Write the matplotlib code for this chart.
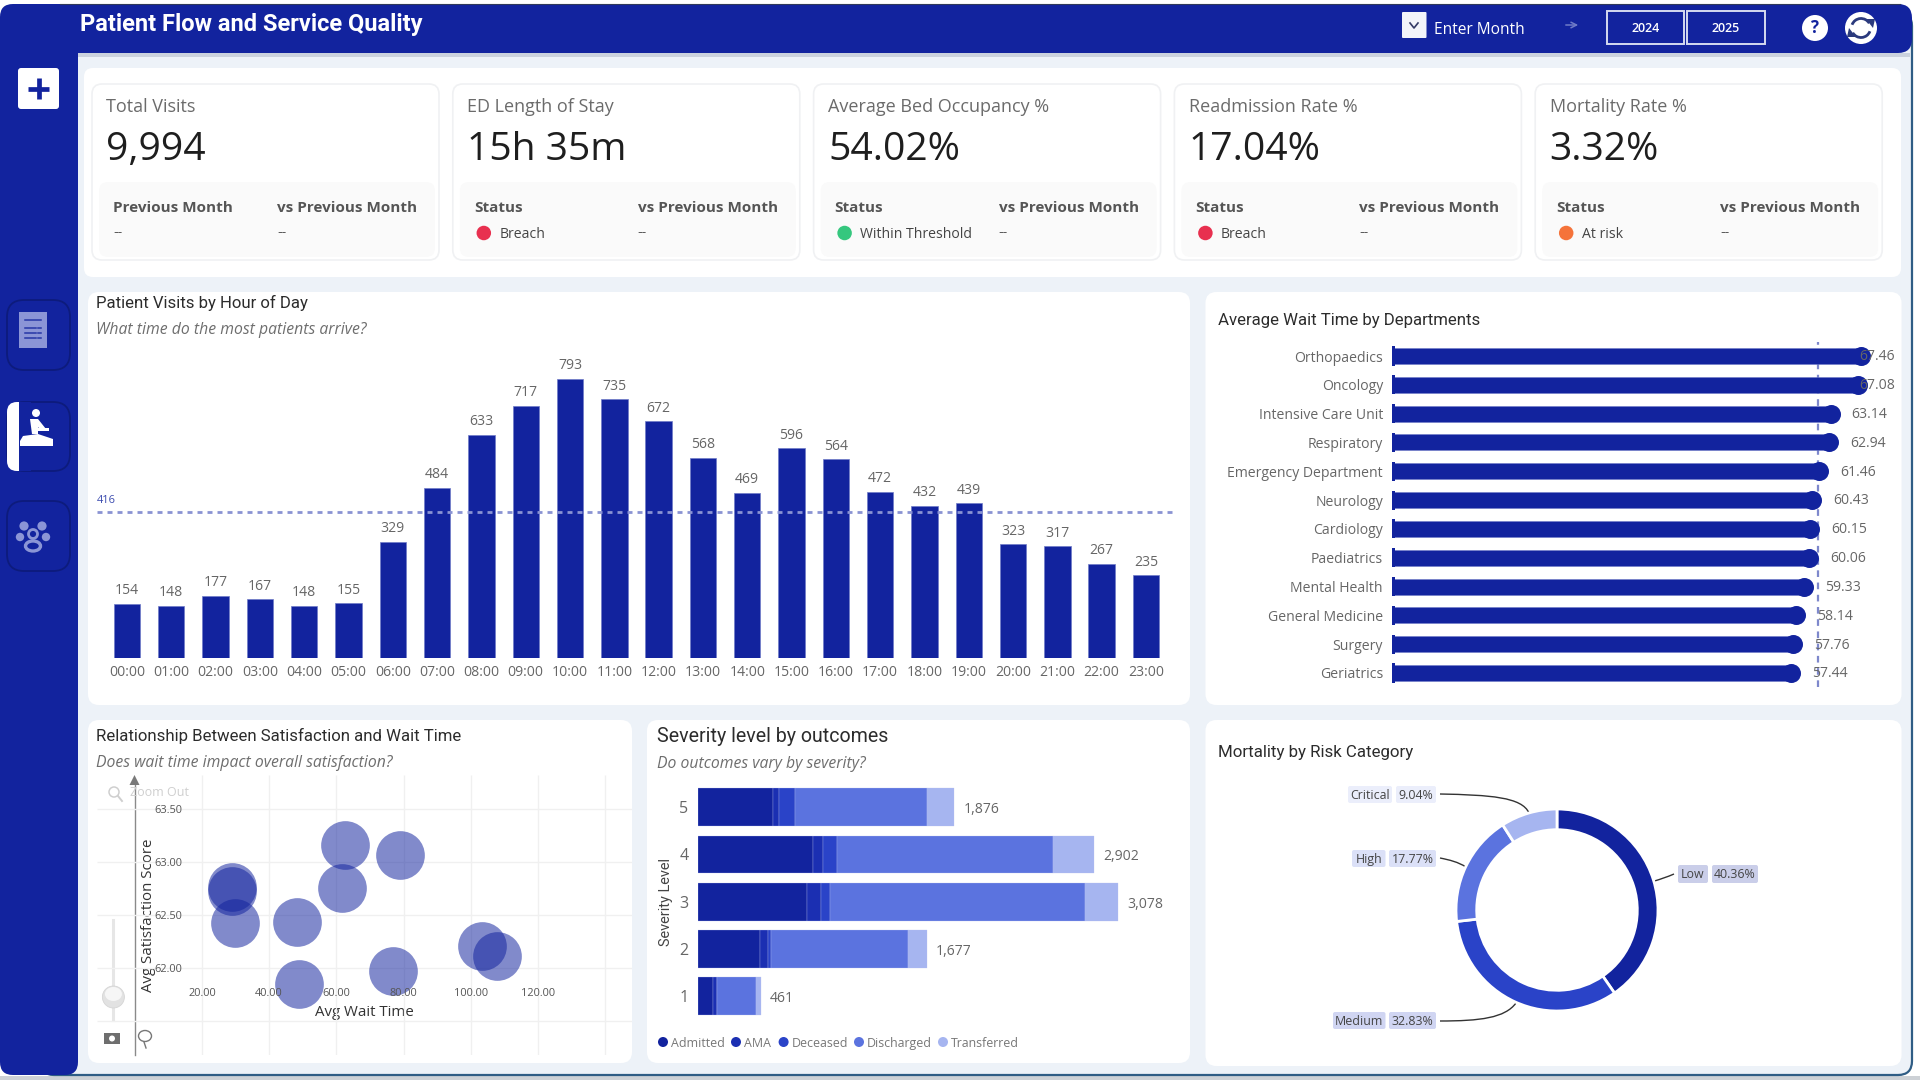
import matplotlib
matplotlib.use("Agg")
import matplotlib.pyplot as plt
from matplotlib.patches import FancyBboxPatch, Rectangle, Polygon, PathPatch, Arc, Ellipse
from matplotlib.path import Path

# ---- data -----------------------------------------------------------------
hours = [f"{h:02d}:00" for h in range(24)]
visits = [154, 148, 177, 167, 148, 155, 329, 484, 633, 717, 793, 735,
          672, 568, 469, 596, 564, 472, 432, 439, 323, 317, 267, 235]
avg_visits = 416

departments = ["Orthopaedics", "Oncology", "Intensive Care Unit", "Respiratory",
               "Emergency Department", "Neurology", "Cardiology", "Paediatrics",
               "Mental Health", "General Medicine", "Surgery", "Geriatrics"]
wait_times = [67.46, 67.08, 63.14, 62.94, 61.46, 60.43, 60.15, 60.06, 59.33, 58.14, 57.76, 57.44]
avg_wait = 61.3

bubble_wait = [29.0, 29.0, 29.75, 48.25, 62.7, 78.9, 61.7, 48.8, 76.9, 103.4, 107.7]
bubble_satisfaction = [62.76, 62.73, 62.42, 62.43, 63.16, 63.07, 62.75, 61.85, 61.97, 62.21, 62.11]

severity_levels = [5, 4, 3, 2, 1]
outcomes = ["Admitted", "AMA", "Deceased", "Discharged", "Transferred"]
admitted = [546, 842, 795, 452, 110]
ama = [44, 71, 105, 58, 30]
deceased = [120, 107, 68, 26, 2]
discharged = [967, 1579, 1864, 999, 282]
transferred = [199, 303, 246, 142, 37]
severity_totals = [1876, 2902, 3078, 1677, 461]

risk_categories = ["Low", "Medium", "High", "Critical"]
risk_shares = [40.36, 32.83, 17.77, 9.04]

kpi_titles = ["Total Visits", "ED Length of Stay", "Average Bed Occupancy %",
              "Readmission Rate %", "Mortality Rate %"]
kpi_values = ["9,994", "15h 35m", "54.02%", "17.04%", "3.32%"]
kpi_status = [None, "Breach", "Within Threshold", "Breach", "At risk"]

# ---- palette and helpers --------------------------------------------------
NAVY = "#12239E"
OUTCOME_COLORS = ["#12239E", "#1B2FB2", "#2A43C8", "#5B73DF", "#A6B5F0"]
RISK_COLORS = ["#12239E", "#2A43C8", "#5B73DF", "#A6B5F0"]
STATUS_COLORS = {"Breach": "#E8304F", "Within Threshold": "#35C77E", "At risk": "#F5733A"}
SANS = "Open Sans"
HEAD = "Roboto"
W, H = 1920, 1080
PX = 0.72  # points per pixel at dpi 100

fig = plt.figure(figsize=(W / 100, H / 100), dpi=100, facecolor="white")
bg = fig.add_axes([0, 0, 1, 1], zorder=0)
bg.set_xlim(0, W)
bg.set_ylim(H, 0)
bg.axis("off")


def panel_axes(x0, y0, x1, y1, zorder=2):
    ax = fig.add_axes([x0 / W, 1 - y1 / H, (x1 - x0) / W, (y1 - y0) / H], zorder=zorder)
    ax.patch.set_alpha(0)
    return ax


def box(x0, y0, x1, y1, r, color, ec="none", lw=0, z=1):
    bg.add_patch(FancyBboxPatch((x0, y0), x1 - x0, y1 - y0,
                                boxstyle=f"round,pad=0,rounding_size={r}",
                                fc=color, ec=ec, lw=lw, zorder=z))


def label(x, y, s, px, color="#444444", family=SANS, ha="left", va="center", z=5, **kw):
    return bg.text(x, y, s, fontsize=px * PX, color=color, family=family, ha=ha, va=va, zorder=z, **kw)


# ---- page frame -----------------------------------------------------------
bg.add_patch(Rectangle((0, 1076), W, 4, fc="#CDD1D6", ec="none", zorder=0))
box(40, 12, 1912, 1075, 14, "#EDF2F8", ec="#2F5D85", lw=1.6, z=0.5)
box(0, 4, 78, 1075, 13, NAVY, z=2)
bg.add_patch(Rectangle((78, 53), 1832, 4, fc="#CBD2DE", ec="none", zorder=1.5))
box(40, 4, 1912, 53, 14, NAVY, z=2.5)
bg.plot([60, 1900], [3.5, 3.5], color="#30395A", lw=0.8, zorder=2.6)

# header controls
label(80, 24.5, "Patient Flow and Service Quality", 23.6, color="white", family=HEAD, weight="bold")
box(1402, 12, 1426.5, 38, 1, "#F2F4FA", z=3)
bg.plot([1410, 1414, 1418], [23, 28, 23], color="#333A66", lw=1.2, zorder=4)
label(1434, 29.5, "Enter Month", 15.5, color="white")
bg.annotate("", xy=(1581, 25), xytext=(1563, 25),
            arrowprops=dict(arrowstyle="->", color="#6F7BC7", lw=1.1), zorder=4)
for x0, x1, yr in [(1606.5, 1684, "2024"), (1687, 1764.5, "2025")]:
    bg.add_patch(Rectangle((x0, 11), x1 - x0, 33, fc="none", ec="#D5DAF0", lw=1.4, zorder=4))
    label((x0 + x1) / 2, 29, yr, 12.5, color="white", ha="center", weight="semibold")
bg.add_patch(Ellipse((1815, 28), 26, 26, fc="white", ec="none", zorder=4))
label(1815, 28, "?", 17, color=NAVY, ha="center", weight="bold", z=5)
bg.add_patch(Ellipse((1861, 28), 32, 32, fc="white", ec="none", zorder=4))
for start, pts in [(200, [(1866, 19), (1875, 19), (1873, 28)]),
                   (20, [(1856, 37), (1847, 37), (1849, 28)])]:
    bg.add_patch(Arc((1861, 28), 19, 19, theta1=start, theta2=start + 130, color="#2B3A7D", lw=2, zorder=5))
    bg.add_patch(Polygon(pts, fc="#2B3A7D", ec="none", zorder=5))

# sidebar buttons and icons
box(18, 68, 59, 109, 3, "white", z=3)
bg.plot([38.5, 38.5], [78, 99], color=NAVY, lw=3.4, zorder=4, solid_capstyle="butt")
bg.plot([28, 49], [88.5, 88.5], color=NAVY, lw=3.4, zorder=4, solid_capstyle="butt")
for y0, y1 in [(300, 370), (402, 471), (501, 571)]:
    box(7, y0, 70, y1, 17, "none", ec="#0D1B7C", lw=1.3, z=3)
bg.add_patch(Rectangle((19, 312), 28, 36, fc="#8B95D6", ec="none", zorder=4))
for yy, xa, xb in [(320, 25, 41), (328, 25, 36), (328, 38, 41), (333, 25, 36), (333, 38, 41), (338, 25, 36), (338, 38, 41)]:
    bg.plot([xa, xb], [yy, yy], color="#2636A6", lw=1.1, zorder=5)
box(7, 402, 30, 471, 10, "white", z=3)
bg.add_patch(Rectangle((19, 402), 12, 69, fc=NAVY, ec="none", zorder=3.2))
bg.add_patch(Ellipse((36, 413), 8, 8, fc="white", ec="none", zorder=5))
bg.add_patch(Polygon([(30, 419), (38, 419), (46, 429), (41, 431), (38, 427), (38, 434), (32, 434)],
                     fc="white", ec="none", zorder=5))
bg.add_patch(Rectangle((35, 428), 14, 3, fc="white", ec="none", zorder=5))
bg.add_patch(Polygon([(23, 436), (38, 434), (53, 439), (53, 446), (20, 446), (20, 441)],
                     fc="white", ec="none", zorder=5))
for cx, cy, rx in [(24, 526, 4.6), (42, 526, 4.6), (20, 537, 4.2), (46, 537, 4.2)]:
    bg.add_patch(Ellipse((cx, cy), rx * 2, rx * 2, fc="#8B95D6", ec="none", zorder=5))
bg.add_patch(Ellipse((33, 534), 9, 9, fc="none", ec="#8B95D6", lw=2, zorder=5))
bg.add_patch(Ellipse((33, 546), 15, 10, fc="none", ec="#8B95D6", lw=2.4, zorder=5))

# ---- KPI cards ------------------------------------------------------------
box(84, 68, 1901, 277, 9, "white", z=1)
for i, (title, value, status) in enumerate(zip(kpi_titles, kpi_values, kpi_status)):
    cx = 92 + i * 360.8
    box(cx, 84, cx + 347, 260, 10, "white", ec="#F0F1F3", lw=1.2, z=2)
    box(cx + 7, 182, cx + 343, 257, 9, "#FAFAFA", z=2.2)
    label(cx + 14.5, 107, title, 18, color="#6B6B6B")
    label(cx + 14.5, 150, value, 39, color="#1E1E1E")
    first = "Previous Month" if status is None else "Status"
    label(cx + 21, 208.5, first, 15.2, color="#555555", weight="bold")
    label(cx + 185, 208.5, "vs Previous Month", 15.2, color="#555555", weight="bold")
    label(cx + 185, 233, "--", 13, color="#555555", family="DejaVu Sans")
    if status is None:
        label(cx + 21, 233, "--", 13, color="#555555", family="DejaVu Sans")
    else:
        bg.add_patch(Ellipse((cx + 31, 233), 14.5, 14.5, fc=STATUS_COLORS[status], ec="none", zorder=5))
        label(cx + 46.5, 235, status, 14, color="#444444")

# ---- panels ---------------------------------------------------------------
for x0, y0, x1, y1 in [(88, 292, 1190, 705), (1205.5, 292, 1901.5, 705),
                       (88, 720, 632, 1063), (647, 720, 1190, 1063), (1205.5, 720, 1901.5, 1066)]:
    box(x0, y0, x1, y1, 11, "white", z=1)

TITLE = "#2C2C2C"
SUB = "#6E6E6E"
label(96, 303, "Patient Visits by Hour of Day", 16.7, color=TITLE, family=HEAD)
label(96, 330, "What time do the most patients arrive?", 15.7, color=SUB, style="italic")
label(1217.5, 321, "Average Wait Time by Departments", 16.8, color=TITLE, family=HEAD)
label(96.5, 736, "Relationship Between Satisfaction and Wait Time", 16.7, color=TITLE, family=HEAD)
label(96.5, 763, "Does wait time impact overall satisfaction?", 15.8, color=SUB, style="italic")
label(657, 737, "Severity level by outcomes", 19.6, color=TITLE, family=HEAD)
label(657, 764.5, "Do outcomes vary by severity?", 15.8, color=SUB, style="italic")
label(1217.5, 752, "Mortality by Risk Category", 16.9, color=TITLE, family=HEAD)

# ---- visits by hour -------------------------------------------------------
ax = panel_axes(97, 306, 1173, 658)
ax.bar(range(24), visits, width=0.595, color=NAVY, edgecolor="#6F7BC7", linewidth=0.5, zorder=2)
ax.axhline(avg_visits, color="#8A93D3", lw=2, dashes=(1.8, 1.8), zorder=3)
for i, v in enumerate(visits):
    ax.annotate(str(v), (i, v), xytext=(0, 9.5), textcoords="offset points", ha="center", va="center",
                fontsize=14 * PX, color="#666666", family=SANS, zorder=4)
ax.text(-0.677, avg_visits + 31, str(avg_visits), fontsize=11 * PX, color="#3A4AAE", family=SANS, va="center")
ax.set_xlim(-0.677, 23.61)
ax.set_ylim(0, 1000)
ax.set_xticks(range(24), hours)
ax.set_yticks([])
ax.tick_params(axis="x", length=0, pad=4.8, labelsize=14 * PX, labelcolor="#666666")
for t in ax.get_xticklabels():
    t.set_family(SANS)
for s in ax.spines.values():
    s.set_visible(False)

# ---- wait time by department ----------------------------------------------
ax = panel_axes(1392, 342, 1900, 687)
rows = list(range(len(departments)))
ax.axvline(avg_wait, color="#7E88CC", lw=1.6, dashes=(3, 2.5), zorder=1)
ax.barh(rows, wait_times, height=0.555, color=NAVY, edgecolor="#6F7BC7", linewidth=0.4, zorder=2)
ax.barh(rows, [0.5] * len(rows), height=0.66, color=NAVY, zorder=2)
ax.scatter(wait_times, rows, s=(19 * PX) ** 2, color=NAVY, linewidths=0, zorder=3)
for r, v in zip(rows, wait_times):
    ax.text(min(v + 3.0, 67.3), r + 0.03, f"{v:.2f}", fontsize=14 * PX, color="#666666",
            family=SANS, ha="left", va="center", zorder=4)
ax.set_xlim(0, 73.1)
ax.set_ylim(11.486, -0.486)
ax.set_yticks(rows, departments)
ax.set_xticks([])
ax.tick_params(axis="y", length=0, pad=6.5, labelsize=14 * PX, labelcolor="#666666")
for t in ax.get_yticklabels():
    t.set_family(SANS)
for s in ax.spines.values():
    s.set_visible(False)

# ---- satisfaction vs wait time --------------------------------------------
ax = panel_axes(96.5, 775, 632, 1055)
x_ticks = [20, 40, 60, 80, 100, 120]
y_ticks = [62.0, 62.5, 63.0, 63.5]
ax.vlines(x_ticks + [140], 61.18, 63.82, color="#F0F0F0", lw=1, zorder=0.5)
ax.hlines([61.5] + y_ticks, -11.4, 148, color="#F0F0F0", lw=1, zorder=0.5)
ax.scatter(bubble_wait, bubble_satisfaction, s=(48.7 * PX) ** 2, color=NAVY, alpha=0.53, linewidths=0, zorder=1)
ax.set_xlim(-11.4, 148)
ax.set_ylim(61.18, 63.82)
ax.spines["bottom"].set_position(("data", 61.84))
ax.spines["left"].set_position(("data", 14.9))
for s in ax.spines.values():
    s.set_visible(False)
ax.set_axisbelow(False)
ax.set_xticks(x_ticks, [f"{v:.2f}" for v in x_ticks])
ax.set_yticks(y_ticks, [f"{v:.2f}" for v in y_ticks])
ax.tick_params(length=0, pad=2, labelsize=11 * PX, labelcolor="#555555")
for t in ax.get_xticklabels() + ax.get_yticklabels():
    t.set_family(SANS)
label(364, 1012, "Avg Wait Time", 15, color="#333333", ha="center", z=6)
label(148, 915, "Avg Satisfaction Score", 15, color="#333333", ha="center", rotation=90, z=6)
bg.plot([134.5, 134.5], [782, 1055], color="#8A8A8A", lw=1, zorder=3)
bg.add_patch(Polygon([(129.5, 785), (139.5, 785), (134.5, 775)], fc="#7A7A7A", ec="none", zorder=3))
label(130, 793, "Zoom Out", 12.5, color="#CFCFCF")
bg.add_patch(Ellipse((114, 792), 10, 10, fc="none", ec="#CFCFCF", lw=1.1, zorder=3))
bg.plot([118, 122], [796, 801], color="#CFCFCF", lw=1.4, zorder=3)
bg.plot([113.4, 113.4], [920, 1020], color="#E6E6E6", lw=2.2, zorder=3)
bg.add_patch(Ellipse((113.4, 997), 22, 22, fc="#E2E2E2", ec="#D5D5D5", lw=0.6, zorder=3))
bg.add_patch(Ellipse((113.4, 994), 17, 14, fc="#F6F6F6", ec="none", zorder=3.1))
bg.add_patch(Rectangle((104, 1033), 16, 11, fc="#6E6E6E", ec="none", zorder=3))
bg.add_patch(Ellipse((112, 1038.5), 6, 6, fc="white", ec="none", zorder=3.1))
bg.add_patch(Ellipse((145, 1036), 13, 11, fc="none", ec="#777777", lw=1, zorder=3))
bg.plot([144, 146], [1042, 1048], color="#777777", lw=1, zorder=3)

# ---- severity by outcome --------------------------------------------------
ax = panel_axes(698, 780, 1190, 1022)
left = [0] * len(severity_levels)
for name, vals, col in zip(outcomes, [admitted, ama, deceased, discharged, transferred], OUTCOME_COLORS):
    ax.barh(severity_levels, vals, left=left, height=0.797, color=col, edgecolor="#B9C3F0", linewidth=0.2, label=name)
    left = [a + b for a, b in zip(left, vals)]
for lvl, tot in zip(severity_levels, severity_totals):
    ax.annotate(f"{tot:,}", (tot, lvl), xytext=(6.5, -1.8), textcoords="offset points", ha="left", va="center",
                fontsize=14 * PX, color="#666666", family=SANS)
ax.set_xlim(0, 3602)
ax.set_ylim(0.457, 5.573)
ax.set_yticks(severity_levels, [str(v) for v in severity_levels])
ax.set_xticks([])
ax.tick_params(axis="y", length=0, pad=7, labelsize=16 * PX, labelcolor="#666666")
for t in ax.get_yticklabels():
    t.set_family(SANS)
for s in ax.spines.values():
    s.set_visible(False)
label(666, 902, "Severity Level", 14.5, color="#444444", family=HEAD, ha="center", rotation=90)
for name, col, mx in zip(outcomes, OUTCOME_COLORS, [663, 736, 783.6, 859, 943]):
    bg.add_patch(Ellipse((mx, 1042), 10, 10, fc=col, ec="none", zorder=4))
    label(mx + 8, 1043.5, name, 12.4, color="#777777")

# ---- mortality donut ------------------------------------------------------
ax = panel_axes(1452, 805, 1662, 1015)
ax.pie(risk_shares, colors=RISK_COLORS, radius=1, startangle=90, counterclock=False,
       wedgeprops=dict(width=0.205, edgecolor="white", linewidth=2))
ax.set_xlim(-1.0396, 1.0396)
ax.set_ylim(-1.0396, 1.0396)

for cat, share, col, name_box, val_box, yr in zip(
        risk_categories, risk_shares, RISK_COLORS,
        [(1678, 1708), (1333, 1385.5), (1352, 1385.5), (1348, 1392)],
        [(1712, 1758), (1389, 1436), (1389, 1436), (1396, 1436)],
        [(865, 883), (1012, 1029), (850, 867), (786, 803)]):
    for (xa, xb), text in [(name_box, cat), (val_box, f"{share:.2f}%")]:
        box(xa, yr[0], xb, yr[1], 2, col + "38", z=3)
        label((xa + xb) / 2, sum(yr) / 2 + 1, text, 12.4, color="#444444", ha="center")
for verts in [[(1440, 794), (1490, 795), (1522, 797), (1529, 813)],
              [(1440, 858), (1450, 860), (1458, 862), (1466, 867)],
              [(1440, 1021), (1480, 1021), (1505, 1018), (1516, 1003)],
              [(1674, 874), (1667, 877), (1661, 879), (1654.5, 881)]]:
    bg.add_patch(PathPatch(Path(verts, [Path.MOVETO, Path.CURVE4, Path.CURVE4, Path.CURVE4]),
                           fc="none", ec="#333333", lw=1, zorder=3))

fig.savefig("out.png", dpi=100, facecolor="white")
